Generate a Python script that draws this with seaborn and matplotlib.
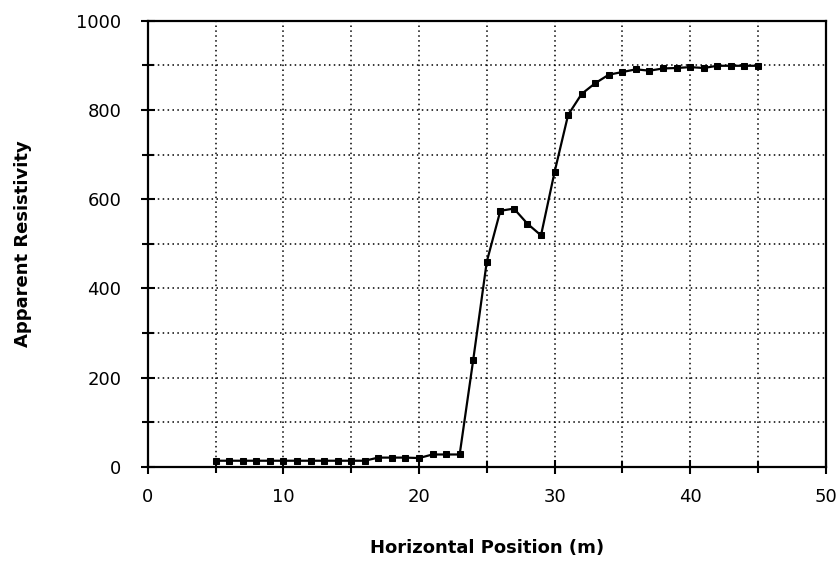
import numpy as np
import matplotlib
matplotlib.use('Agg')
import matplotlib.pyplot as plt
import seaborn as sns
import pandas as pd
from matplotlib.ticker import MultipleLocator

position = [5, 6, 7, 8, 9, 10, 11, 12, 13, 14, 15, 16, 17, 18, 19, 20, 21, 22, 23,
            24, 25, 26, 27, 28, 29, 30, 31, 32, 33, 34, 35, 36, 37, 38, 39, 40,
            41, 42, 43, 44, 45]
resistivity = [14, 14, 14, 14, 14, 14, 14, 14, 14, 14, 14, 14, 21, 21, 21, 20, 28, 28, 28,
               240, 460, 574, 579, 545, 519, 661, 789, 836, 860, 879, 885, 891, 888, 893, 894, 896,
               894, 899, 899, 899, 899]

data = pd.DataFrame({'x': position, 'y': resistivity})

sns.set_style('white')
plt.rcParams['text.color'] = 'black'
plt.rcParams['axes.labelcolor'] = 'black'
plt.rcParams['xtick.color'] = 'black'
plt.rcParams['ytick.color'] = 'black'

fig = plt.figure(figsize=(8.4, 5.61), dpi=100)
ax = fig.add_axes([0.176, 0.1676, 0.807, 0.7955])

sns.lineplot(x='x', y='y', data=data, color='black', linewidth=1.6,
             marker='s', markersize=4.5, markeredgecolor='black', ax=ax)

ax.set_xlim(0, 50)
ax.set_ylim(0, 1000)
ax.xaxis.set_major_locator(MultipleLocator(10))
ax.xaxis.set_minor_locator(MultipleLocator(5))
ax.yaxis.set_major_locator(MultipleLocator(200))
ax.yaxis.set_minor_locator(MultipleLocator(100))
ax.grid(True, which='both', color='black', linestyle=(0, (1, 2.2)), linewidth=1.1)
ax.set_axisbelow(True)

for s in ax.spines.values():
    s.set_color('black')
    s.set_linewidth(1.6)

ax.tick_params(which='major', direction='inout', length=10, width=1.5,
               labelsize=13, left=True, bottom=True)
ax.tick_params(which='minor', direction='inout', length=8, width=1.5,
               left=True, bottom=True)
ax.tick_params(axis='y', which='major', pad=14)
ax.tick_params(axis='x', which='major', pad=10)

ax.set_xlabel('Horizontal Position (m)', fontsize=13, fontweight='bold', labelpad=24)
ax.set_ylabel('Apparent Resistivity', fontsize=13, fontweight='bold', labelpad=32)

plt.savefig('out.png', dpi=100)
